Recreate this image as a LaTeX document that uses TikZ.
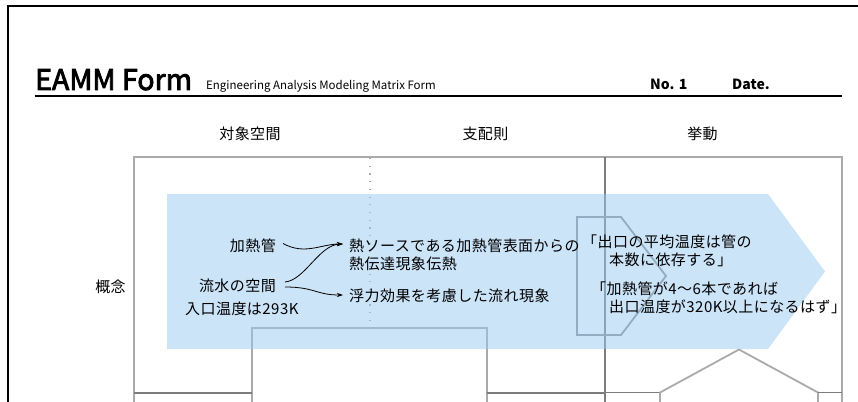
\documentclass[tikz,border=0pt]{standalone}
\usepackage{fontspec}
\setmainfont{Noto Sans CJK JP}
\newfontfamily\bodyfont[LetterSpace=3]{Noto Sans CJK JP}
\newfontfamily\titlefont[FakeBold=3]{Noto Sans CJK JP}
\usetikzlibrary{arrows.meta,calc}
\definecolor{lightline}{RGB}{170,170,170}
\definecolor{darkline}{RGB}{125,125,125}
\definecolor{bluearrow}{RGB}{153,201,242}
\tikzset{
  lightbox/.style={draw=lightline,line width=1.8pt},
  darkbar/.style={draw=darkline,line width=2.5pt},
  body/.style={inner sep=0pt,font=\bodyfont\fontsize{15}{18}\selectfont},
  header/.style={inner sep=0pt,font=\bodyfont\fontsize{15}{18}\selectfont},
  conn/.style={line width=0.8pt,-{Stealth[length=6pt,width=4pt]}},
}
\begin{document}
\begin{tikzpicture}[x=1pt,y=-1pt]
\useasboundingbox (0,0) rectangle (858,401);
% outer frame
\draw[line width=2pt] (8,402) -- (8,6) -- (860,6);
% title
\node[inner sep=0pt,anchor=base west,font=\titlefont\fontsize{28.5}{30}\selectfont] (title) at (35,90) {EAMM Form};
\node[inner sep=0pt,anchor=base west,font=\fontsize{11.5}{13}\selectfont] (subtitle) at (206,90) {Engineering Analysis Modeling Matrix Form};
\node[inner sep=0pt,anchor=base west,font=\fontsize{14}{16}\selectfont\bfseries] (no) at (650,90) {No. 1};
\node[inner sep=0pt,anchor=base west,font=\fontsize{14}{16}\selectfont\bfseries] (date) at (732,90) {Date.};
\draw[line width=1.2pt] (35,96) -- (842,96);
% headers
\node[header] (h1) at (250,134) {対象空間};
\node[header] (h2) at (485.5,134) {支配則};
\node[header] (h3) at (702.5,134) {挙動};
\node[header] (row) at (110.5,287) {概念};
% matrix lines
\draw[lightbox] (134,402) -- (134,157) -- (842,157) -- (842,402);
\draw[draw=lightline,line width=1.2pt,dash pattern=on 1.2pt off 6.5pt] (370,158) -- (370,322);
\draw[darkbar] (605,157) -- (605,402);
% lower row
\draw[lightbox] (252,402) -- (252,328) -- (487,328) -- (487,402);
\draw[darkbar] (134,393) -- (252,393);
\draw[darkbar] (487,393) -- (605,393);
\draw[draw=darkline,line width=1.5pt] (605,392.5) -- (660,392.5);
\draw[lightbox] (660,402) -- (660,392.5) -- (739,349.5) -- (818,392.5) -- (818,402);
\draw[draw=darkline,line width=1.5pt] (818,392.5) -- (842,392.5);
% chevron
\draw[draw=darkline!85,line width=1.8pt] (577,217) -- (621,217) -- (666,276) -- (621,335) -- (577,335) -- cycle;
% big blue arrow
\fill[bluearrow,fill opacity=0.5] (167,194) -- (768,194) -- (825,271.5) -- (768,349) -- (167,349) -- cycle;
% texts
\node[body,anchor=east] (kan) at (276,245.5) {加熱管};
\node[body,anchor=east] (ryu) at (276,285.5) {流水の空間};
\node[body,anchor=west] (iri) at (185,309) {入口温度は293K};
\node[body,anchor=west] (netsu) at (349,245.5) {熱ソースである加熱管表面からの};
\node[body,anchor=west] (netsu2) at (349,264) {熱伝達現象伝熱};
\node[body,anchor=west] (fu) at (349,296) {浮力効果を考慮した流れ現象};
\node[body,anchor=west] (b1) at (582,241.5) {「出口の平均温度は管の};
\node[body,anchor=west] (b2) at (609,260) {本数に依存する」};
\node[body,anchor=west] (b3) at (591,288.5) {「加熱管が4〜6本であれば};
\node[body,anchor=west] (b4) at (609,306.5) {出口温度が320K以上になるはず」};
% connectors
\draw[conn] ($(kan.east)+(7,-2)$) .. controls +(22,12) and +(-22,0) .. ($(netsu.west)+(-6,-1.5)$);
\draw[conn] ($(ryu.east)+(9,-3.5)$) .. controls +(20,-2) and +(-24,1) .. ($(netsu.west)+(-6,-1.5)$);
\draw[conn] ($(ryu.east)+(9,1.5)$) .. controls +(30,0) and +(-27,0) .. ($(fu.west)+(-6,-1)$);
\end{tikzpicture}
\end{document}
